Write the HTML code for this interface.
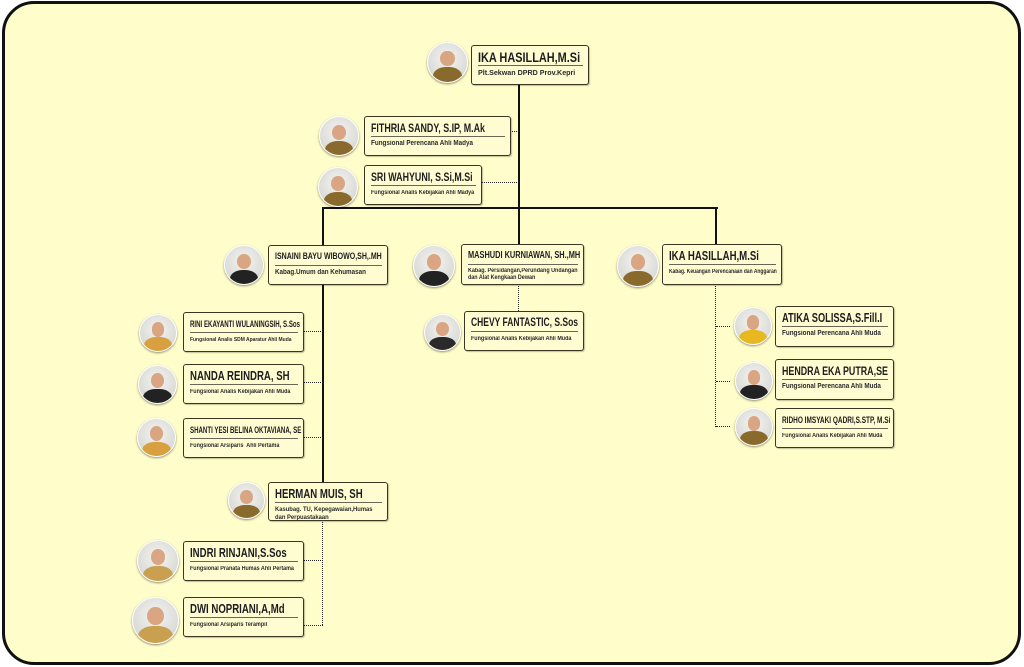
<!DOCTYPE html>
<html><head><meta charset="utf-8"><style>
*{margin:0;padding:0;box-sizing:border-box}
body{width:1024px;height:667px;background:#fff;position:relative;overflow:hidden;font-family:"Liberation Sans",sans-serif}
.frame{position:absolute;left:2px;top:1px;width:1019px;height:664px;border:3px solid #111;border-radius:32px;background:#fffdc9}
.b{position:absolute;border:1.5px solid #3b3522;border-radius:3px;background:#fffcd2;padding:4px 5px 0 6px;box-shadow:1px 1px 1px rgba(0,0,0,.25)}
.n{font-weight:bold;color:#1d1d1d;font-size:12px;line-height:14px;white-space:nowrap;border-bottom:1px solid #6a6656;padding-bottom:1px;margin-bottom:3px;width:100%;overflow:visible}
.n span{display:inline-block;transform:scaleX(.74);transform-origin:0 50%}
.t{font-weight:bold;color:#2a2a2a;font-size:7px;line-height:8px;white-space:nowrap}
.t span{display:inline-block;transform:scaleX(.9);transform-origin:0 50%}
.p{position:absolute;border-radius:50%;background:radial-gradient(circle at 50% 40%,#f4f4f2,#cfcfcb);border:1.5px solid #fff;box-shadow:0 1px 2px rgba(0,0,0,.45);overflow:hidden}
.p i{position:absolute;left:32%;top:20%;width:36%;height:40%;border-radius:50%;background:#d9a582}
.p u{position:absolute;left:12%;top:62%;width:76%;height:50%;border-radius:45% 45% 0 0;background:#8a6a2c}
.L{position:absolute;background:#111}
.D{position:absolute;border-top:1.5px dotted #222}
.V{position:absolute;border-left:1.5px dotted #222}
</style></head><body>
<div class="frame"></div>
<div class="L" style="left:518px;top:84px;width:2px;height:125px"></div>
<div class="L" style="left:322px;top:207px;width:396px;height:2px"></div>
<div class="L" style="left:322px;top:207px;width:2px;height:38px"></div>
<div class="L" style="left:518px;top:207px;width:2px;height:38px"></div>
<div class="L" style="left:715px;top:207px;width:2px;height:38px"></div>
<div class="L" style="left:322px;top:284px;width:2px;height:198px"></div>
<div class="D" style="left:510px;top:131px;width:9px"></div>
<div class="D" style="left:481px;top:182px;width:38px"></div>
<div class="V" style="left:518px;top:284px;height:27px"></div>
<div class="V" style="left:715px;top:284px;height:143px"></div>
<div class="D" style="left:716px;top:326px;width:14px"></div>
<div class="D" style="left:716px;top:381px;width:14px"></div>
<div class="D" style="left:716px;top:426px;width:14px"></div>
<div class="D" style="left:303px;top:331px;width:20px"></div>
<div class="D" style="left:303px;top:382px;width:20px"></div>
<div class="D" style="left:303px;top:437px;width:20px"></div>
<div class="V" style="left:322px;top:520px;height:105px"></div>
<div class="D" style="left:303px;top:560px;width:20px"></div>
<div class="D" style="left:303px;top:625px;width:20px"></div>

<div class="p" style="left:427px;top:42px;width:41px;height:41px"><i></i><u></u></div>
<div class="b" style="left:471px;top:45px;width:118px;height:40px"><div class="n" style="font-size:14px"><span style="transform:scaleX(.78)">IKA HASILLAH,M.Si</span></div><div class="t" style="font-size:7.5px"><span style="transform:scaleX(.95)">Plt.Sekwan DPRD Prov.Kepri</span></div></div>

<div class="p" style="left:319px;top:116px;width:40px;height:40px"><i></i><u></u></div>
<div class="b" style="left:364px;top:116px;width:147px;height:40px"><div class="n"><span>FITHRIA SANDY, S.IP, M.Ak</span></div><div class="t"><span>Fungsional Perencana Ahli Madya</span></div></div>

<div class="p" style="left:318px;top:167px;width:40px;height:40px"><i></i><u></u></div>
<div class="b" style="left:364px;top:165px;width:118px;height:40px"><div class="n"><span>SRI WAHYUNI, S.Si,M.Si</span></div><div class="t" style="font-size:6px"><span>Fungsional Analis Kebijakan Ahli Madya</span></div></div>

<div class="p" style="left:224px;top:245px;width:40px;height:40px"><i></i><u style="background:#222"></u></div>
<div class="b" style="left:268px;top:245px;width:120px;height:40px"><div class="n" style="font-size:9.5px"><span>ISNAINI BAYU WIBOWO,SH,.MH</span></div><div class="t"><span>Kabag.Umum dan Kehumasan</span></div></div>

<div class="p" style="left:413px;top:245px;width:42px;height:42px"><i></i><u style="background:#222"></u></div>
<div class="b" style="left:461px;top:244px;width:123px;height:41px"><div class="n" style="font-size:10px"><span>MASHUDI KURNIAWAN, SH.,MH</span></div><div class="t" style="font-size:6px;line-height:7px"><span>Kabag. Persidangan,Perundang Undangan<br>dan Alat Kengkaan Dewan</span></div></div>

<div class="p" style="left:617px;top:245px;width:42px;height:42px"><i></i><u></u></div>
<div class="b" style="left:662px;top:244px;width:120px;height:41px"><div class="n" style="font-size:13px"><span>IKA HASILLAH,M.Si</span></div><div class="t" style="font-size:6px"><span style="transform:scaleX(.82)">Kabag. Keuangan Perencanaan dan Anggaran</span></div></div>

<div class="p" style="left:424px;top:314px;width:37px;height:37px"><i></i><u style="background:#2a2a2a"></u></div>
<div class="b" style="left:464px;top:311px;width:120px;height:40px"><div class="n" style="font-size:11.5px"><span>CHEVY FANTASTIC, S.Sos</span></div><div class="t" style="font-size:6px"><span>Fungsional Analis Kebijakan Ahli Muda</span></div></div>

<div class="p" style="left:734px;top:307px;width:38px;height:38px"><i></i><u style="background:#e8b820"></u></div>
<div class="b" style="left:775px;top:306px;width:119px;height:41px"><div class="n" style="font-size:12.5px"><span>ATIKA SOLISSA,S.Fill.I</span></div><div class="t"><span>Fungsional Perencana Ahli Muda</span></div></div>
<div class="p" style="left:735px;top:362px;width:38px;height:38px"><i></i><u style="background:#222"></u></div>
<div class="b" style="left:775px;top:359px;width:119px;height:41px"><div class="n" style="font-size:12px"><span>HENDRA EKA PUTRA,SE</span></div><div class="t"><span>Fungsional Perencana Ahli Muda</span></div></div>
<div class="p" style="left:735px;top:408px;width:38px;height:38px"><i></i><u></u></div>
<div class="b" style="left:775px;top:408px;width:119px;height:40px"><div class="n" style="font-size:9px"><span style="transform:scaleX(.72)">RIDHO IMSYAKI QADRI,S.STP, M.Si</span></div><div class="t" style="font-size:6px"><span>Fungsional Analis Kebijakan Ahli Muda</span></div></div>

<div class="p" style="left:139px;top:314px;width:38px;height:38px"><i></i><u style="background:#d9a040"></u></div>
<div class="b" style="left:183px;top:312px;width:121px;height:40px"><div class="n" style="font-size:9px"><span style="transform:scaleX(.68)">RINI EKAYANTI WULANINGSIH, S.Sos</span></div><div class="t" style="font-size:5.5px"><span>Fungsional Analis SDM Aparatur Ahli Muda</span></div></div>
<div class="p" style="left:138px;top:365px;width:39px;height:39px"><i></i><u style="background:#222"></u></div>
<div class="b" style="left:183px;top:364px;width:121px;height:40px"><div class="n" style="font-size:13px"><span>NANDA REINDRA, SH</span></div><div class="t" style="font-size:6px"><span>Fungsional Analis Kebijakan Ahli Muda</span></div></div>
<div class="p" style="left:137px;top:418px;width:39px;height:39px"><i></i><u style="background:#d9a040"></u></div>
<div class="b" style="left:183px;top:418px;width:121px;height:40px"><div class="n" style="font-size:9px"><span style="transform:scaleX(.68)">SHANTI YESI BELINA OKTAVIANA, SE</span></div><div class="t" style="font-size:6px"><span>Fungsional Arsiparis&nbsp; Ahli Pertama</span></div></div>

<div class="p" style="left:228px;top:482px;width:37px;height:37px"><i></i><u></u></div>
<div class="b" style="left:268px;top:482px;width:120px;height:39px"><div class="n" style="font-size:13px"><span>HERMAN MUIS, SH</span></div><div class="t" style="font-size:6.5px;line-height:7.5px"><span>Kasubag. TU, Kepegawaian,Humas<br>dan Perpuastakaan</span></div></div>

<div class="p" style="left:137px;top:540px;width:42px;height:42px"><i></i><u style="background:#c8a050"></u></div>
<div class="b" style="left:183px;top:541px;width:121px;height:40px"><div class="n" style="font-size:13px"><span>INDRI RINJANI,S.Sos</span></div><div class="t" style="font-size:6px"><span>Fungsional Pranata Humas Ahli Pertama</span></div></div>
<div class="p" style="left:132px;top:597px;width:47px;height:47px"><i></i><u style="background:#c8a050"></u></div>
<div class="b" style="left:183px;top:597px;width:121px;height:40px"><div class="n" style="font-size:13px"><span>DWI NOPRIANI,A,Md</span></div><div class="t" style="font-size:6px"><span>Fungsional Arsiparis Terampil</span></div></div>
</body></html>
